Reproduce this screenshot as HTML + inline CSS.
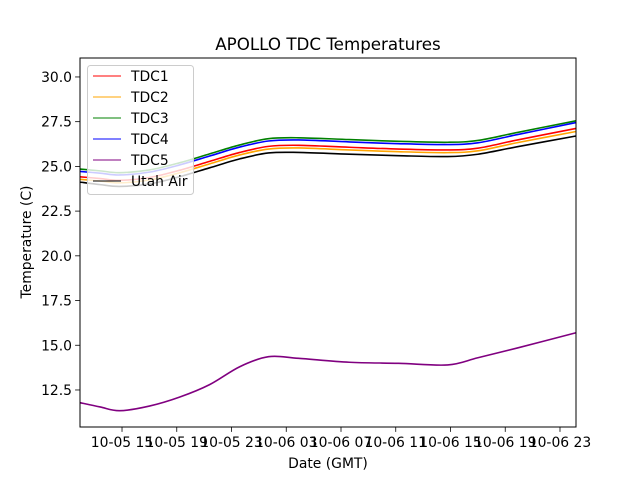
<!DOCTYPE html>
<html><head><meta charset="utf-8"><style>
body{margin:0;background:#fff}
svg text{font-family:"DejaVu Sans","Liberation Sans",sans-serif;fill:#000}
</style></head><body>
<svg id="chart" width="640" height="480" viewBox="0 0 640 480">
<rect width="640" height="480" fill="#fff"/>
<text x="328" y="50" font-size="16.7" text-anchor="middle">APOLLO TDC Temperatures</text>
<g id="plot"></g>
<text x="328" y="468" font-size="13.9" text-anchor="middle">Date (GMT)</text>
<text transform="translate(31,242) rotate(-90)" font-size="13.9" text-anchor="middle">Temperature (C)</text>
</svg>
<script>
const hours = [-3.07,-1.6,-0.17,2.0,4.2,6.4,8.6,10.7,12.9,16.6,20.2,23.8,26.0,28.9,33.17];
const tdc3 = [24.85,24.75,24.65,24.8,25.2,25.7,26.2,26.55,26.6,26.5,26.4,26.35,26.45,26.9,27.55];
const tdc4 = [24.72,24.62,24.52,24.68,25.08,25.58,26.08,26.42,26.48,26.37,26.27,26.22,26.32,26.78,27.45];
const tdc1 = [24.42,24.32,24.22,24.38,24.78,25.28,25.78,26.12,26.18,26.07,25.97,25.92,26.02,26.48,27.12];
const tdc2 = [24.28,24.18,24.08,24.24,24.64,25.14,25.64,25.97,26.03,25.92,25.82,25.77,25.87,26.33,26.95];
const utah = [24.12,23.98,23.88,24.02,24.42,24.92,25.42,25.75,25.78,25.68,25.6,25.55,25.68,26.1,26.7];
const tdc5 = [11.79,11.55,11.34,11.6,12.1,12.8,13.8,14.36,14.27,14.05,13.99,13.9,14.3,14.85,15.7];
const yTicks = [12.5,15.0,17.5,20.0,22.5,25.0,27.5,30.0];
const xTickHours = [0,4,8,12,16,20,24,28,32];
const xTickLabels = ["10-05 15","10-05 19","10-05 23","10-06 03","10-06 07","10-06 11","10-06 15","10-06 19","10-06 23"];
const seriesNames = ["TDC1","TDC2","TDC3","TDC4","TDC5","Utah Air"];
const seriesData = [tdc1,tdc2,tdc3,tdc4,tdc5,utah];
const seriesColors = ["red","orange","green","blue","purple","black"];

const L=80,R=576,T=58,B=427;
const xMin=-3.07,xMax=33.17,yMin=10.43,yMax=31.06;
const xs=h=>L+(h-xMin)/(xMax-xMin)*(R-L);
const ys=v=>B-(v-yMin)/(yMax-yMin)*(B-T);
const NS="http://www.w3.org/2000/svg";
const plot=document.getElementById('plot');
function mk(tag,attrs,parent){const e=document.createElementNS(NS,tag);for(const k in attrs)e.setAttribute(k,attrs[k]);(parent||plot).appendChild(e);return e;}
function smoothPath(pts){
  let p='M'+pts[0][0].toFixed(2)+' '+pts[0][1].toFixed(2);
  for(let i=0;i<pts.length-1;i++){
    const p0=pts[Math.max(0,i-1)],p1=pts[i],p2=pts[i+1],p3=pts[Math.min(pts.length-1,i+2)];
    const c1x=p1[0]+(p2[0]-p0[0])/6,c1y=p1[1]+(p2[1]-p0[1])/6;
    const c2x=p2[0]-(p3[0]-p1[0])/6,c2y=p2[1]-(p3[1]-p1[1])/6;
    p+='C'+c1x.toFixed(2)+' '+c1y.toFixed(2)+' '+c2x.toFixed(2)+' '+c2y.toFixed(2)+' '+p2[0].toFixed(2)+' '+p2[1].toFixed(2);
  }
  return p;
}

seriesData.forEach((d,i)=>{
  const pts=hours.map((h,j)=>[xs(h),ys(d[j])]);
  const path=mk('path',{d:smoothPath(pts),fill:'none',stroke:seriesColors[i],'stroke-width':1.6,'stroke-linejoin':'round'});
  
  
});

const frame=mk('rect',{x:L,y:T,width:R-L,height:B-T,fill:'none',stroke:'#000','stroke-width':1});



yTicks.forEach(v=>{
  const y=ys(v);
  const t=mk('line',{x1:L-4.9,x2:L,y1:y,y2:y,stroke:'#000','stroke-width':0.8});
  
  
  const tx=mk('text',{x:L-8,y:y+5,'font-size':13.9,'text-anchor':'end'});
  tx.textContent=v.toFixed(1);
  
  
});
xTickHours.forEach((h,i)=>{
  const x=xs(h);
  const t=mk('line',{x1:x,x2:x,y1:B,y2:B+4.9,stroke:'#000','stroke-width':0.8});
  
  
  const tx=mk('text',{x:x,y:B+20,'font-size':13.9,'text-anchor':'middle'});
  tx.textContent=xTickLabels[i];
  
  
});

const lg=mk('g',{});


mk('rect',{x:87.5,y:65.5,width:106,height:129,rx:3,fill:'#fff','fill-opacity':0.8,stroke:'#ccc','stroke-width':1},lg);
seriesNames.forEach((n,i)=>{
  const y=76+i*21;
  const e=mk('g',{},lg);
  
  
  mk('line',{x1:93,x2:121,y1:y,y2:y,stroke:seriesColors[i],'stroke-width':1.1},e);
  const tx=mk('text',{x:131,y:y+5,'font-size':13.9},e);
  tx.textContent=n;
});
</script>
</body></html>
